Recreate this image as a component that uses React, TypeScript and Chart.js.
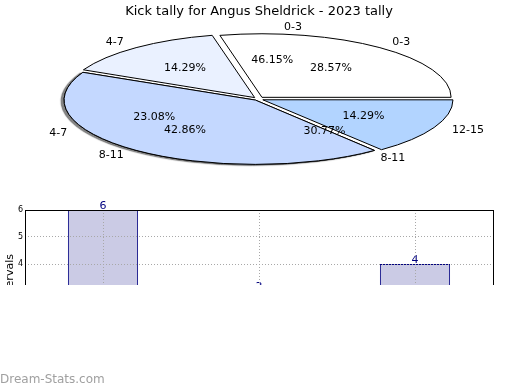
import React, { useEffect, useRef } from "react";
import { Chart, registerables } from "chart.js";

Chart.register(...registerables);

// ---- data ----
const pieTitle = "Kick tally for Angus Sheldrick - 2023 tally";
// outer (drawn) pie
const pieCategories = ["0-3", "4-7", "8-11", "12-15"];
const pieValues = [2, 1, 3, 1];
const pieColors = ["#ffffff", "#eaf1ff", "#c4d8ff", "#b2d4ff"];
// second pie (labels only, drawn underneath)
const pie2Categories = ["0-3", "4-7", "8-11"];
const pie2Values = [6, 3, 4];
// bar chart
const barCategories = ["0-3", "4-7", "8-11"];
const barValues = [6, 3, 4];
const yTicks = [0, 1, 2, 3, 4, 5, 6];
const yAxisTitle = "Kick intervals";
const watermark = "Dream-Stats.com";

const FONT = "'DejaVu Sans', sans-serif";
const CX = 258; // ellipse centre on the page
const CY = 99;
const K = 0.336; // vertical squash
const R = 189;
const EXPLODE = 6.5;

function fmtPct(v: number, total: number) {
  return ((v / total) * 100).toFixed(2) + "%";
}

function PieChart() {
  const ref = useRef<HTMLCanvasElement>(null);
  useEffect(() => {
    const order = pieCategories.map((_, i) => i).reverse();
    const data = order.map((i) => pieValues[i]);
    const colors = order.map((i) => pieColors[i]);
    const labels = order.map((i) => pieCategories[i]);
    const total = pieValues.reduce((a, b) => a + b, 0);
    const total2 = pie2Values.reduce((a, b) => a + b, 0);

    const squash = {
      id: "squash",
      beforeDatasetsDraw(chart: any) {
        const ctx = chart.ctx;
        const arc = chart.getDatasetMeta(0).data[0];
        ctx.save();
        ctx.translate(CX, CY);
        ctx.scale(1, K);
        ctx.translate(-arc.x, -arc.y);
        const origStroke = CanvasRenderingContext2D.prototype.stroke;
        ctx.stroke = function () {
          ctx.save();
          ctx.setTransform(1, 0, 0, 1, 0, 0);
          origStroke.call(ctx);
          ctx.restore();
        };
        // shadow of the big slice
        const big = chart.getDatasetMeta(0).data[1];
        ctx.save();
        ctx.shadowColor = "rgba(80,80,80,0.7)";
        ctx.shadowOffsetX = -3;
        ctx.shadowOffsetY = 1;
        ctx.shadowBlur = 1;
        big.draw(ctx);
        ctx.restore();
      },
      afterDatasetsDraw(chart: any) {
        const ctx = chart.ctx;
        delete (ctx as any).stroke;
        ctx.restore();
        ctx.save();
        ctx.font = `11px ${FONT}`;
        ctx.fillStyle = "#000";
        ctx.textBaseline = "middle";
        const put = (txt: string, a: number, f: number, side: boolean) => {
          const c = Math.cos(a);
          ctx.textAlign = side ? (c >= 0 ? "left" : "right") : "center";
          ctx.fillText(txt, CX + R * f * c, CY + R * K * f * Math.sin(a));
        };
        // second pie labels (counter-clockwise from 3 o'clock)
        let cum = 0;
        pie2Values.forEach((v, i) => {
          const a = -((cum + v / 2) / total2) * Math.PI * 2;
          cum += v;
          put(pie2Categories[i], a, 1.14, true);
          put(fmtPct(v, total2), a, 0.62, false);
        });
        const meta = chart.getDatasetMeta(0);
        meta.data.forEach((el: any, i: number) => {
          const a = (el.startAngle + el.endAngle) / 2;
          put(labels[i], a, 1.14, true);
          put(fmtPct(data[i], total), a, 0.62, false);
        });
        ctx.restore();
      },
    };

    const chart = new Chart(ref.current!, {
      type: "pie",
      data: {
        labels,
        datasets: [
          {
            data,
            backgroundColor: colors,
            borderColor: "#000",
            borderWidth: 1,
            radius: R,
            clip: false as any,
            offset: (c: any) => {
              const v = data[c.dataIndex] ?? 0;
              const circ = (v / total) * Math.PI * 2;
              const fix = 1 - Math.sin(Math.min(Math.PI, circ));
              return (4 * EXPLODE) / (1 + fix);
            },
          } as any,
        ],
      },
      options: {
        animation: false,
        responsive: false,
        rotation: 90,
        events: [],
        layout: { padding: 0 },
        plugins: { legend: { display: false }, tooltip: { enabled: false }, title: { display: false } },
      },
      plugins: [squash],
    });
    return () => chart.destroy();
  }, []);
  return (
    <canvas
      ref={ref}
      width={520}
      height={420}
      style={{ position: "absolute", left: 0, top: 0, width: 520, height: 420 }}
    />
  );
}

function BarChart() {
  const ref = useRef<HTMLCanvasElement>(null);
  useEffect(() => {
    const valueLabels = {
      id: "valueLabels",
      afterDatasetsDraw(chart: any) {
        const ctx = chart.ctx;
        ctx.save();
        ctx.font = `11px ${FONT}`;
        ctx.fillStyle = "#000080";
        ctx.textAlign = "center";
        ctx.textBaseline = "bottom";
        chart.getDatasetMeta(0).data.forEach((el: any, i: number) => {
          ctx.fillText(String(barValues[i]), el.x, el.y + 2);
        });
        ctx.restore();
      },
      afterDraw(chart: any) {
        const { ctx, chartArea: a } = chart;
        ctx.save();
        ctx.strokeStyle = "#000";
        ctx.lineWidth = 1;
        ctx.strokeRect(Math.round(a.left) + 0.5, Math.round(a.top) + 0.5, Math.round(a.right - a.left), Math.round(a.bottom - a.top));
        ctx.restore();
      },
    };
    const chart = new Chart(ref.current!, {
      type: "bar",
      data: {
        labels: barCategories,
        datasets: [
          {
            data: barValues,
            backgroundColor: "#cbcbe5",
            borderColor: "#000080",
            borderWidth: 1,
            barPercentage: 0.45,
            categoryPercentage: 1,
          },
        ],
      },
      options: {
        animation: false,
        responsive: false,
        events: [],
        layout: { padding: { top: 15, right: 27, bottom: 0, left: 0 } },
        plugins: { legend: { display: false }, tooltip: { enabled: false } },
        scales: {
          x: {
            ticks: { display: false },
            grid: { color: "#a8a8a8", offset: false, drawTicks: false, z: 1 },
            border: { display: false, dash: [1, 2] },
            afterFit: (s: any) => {
              s.height = 18;
            },
          },
          y: {
            min: yTicks[0],
            max: yTicks[yTicks.length - 1],
            afterBuildTicks: (s: any) => {
              s.ticks = yTicks.map((v) => ({ value: v }));
            },
            ticks: { color: "#000", font: { size: 8, family: FONT }, padding: 2 },
            grid: { color: "#a8a8a8", drawTicks: false, z: 1 },
            border: { display: false, dash: [1, 2] },
            title: {
              display: true,
              text: yAxisTitle,
              color: "#000",
              font: { size: 11, family: FONT },
              padding: { top: 4, bottom: 0 },
            },
            afterFit: (s: any) => {
              s.width = 25;
            },
          },
        },
      },
      plugins: [valueLabels],
    });
    return () => chart.destroy();
  }, []);
  return (
    <div style={{ position: "absolute", left: 0, top: 195, width: 520, height: 90, overflow: "hidden" }}>
      <canvas ref={ref} width={520} height={195} style={{ display: "block", width: 520, height: 195 }} />
    </div>
  );
}

export default function App() {
  return (
    <div style={{ position: "fixed", left: 0, top: 0, width: 520, height: 390, background: "#fff", overflow: "hidden" }}>
      <PieChart />
      <div
        style={{
          position: "absolute",
          left: 0,
          top: 3,
          width: 518,
          textAlign: "center",
          font: `13px ${FONT}`,
          color: "#000",
        }}
      >
        {pieTitle}
      </div>
      <BarChart />
      <div
        style={{
          position: "absolute",
          left: 0,
          top: 372,
          font: `12px ${FONT}`,
          color: "#a0a0a0",
        }}
      >
        {watermark}
      </div>
    </div>
  );
}
